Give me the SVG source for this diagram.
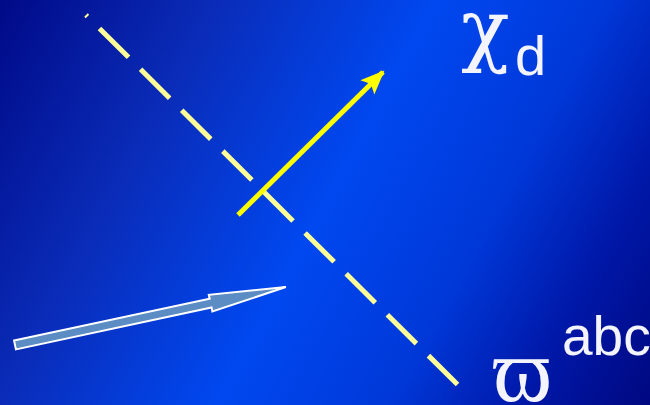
<svg xmlns="http://www.w3.org/2000/svg" width="650" height="405" viewBox="0 0 650 405">
<defs>
<linearGradient id="bg" gradientUnits="userSpaceOnUse" x1="0" y1="0" x2="672" y2="365">
<stop offset="0" stop-color="#000a88"/>
<stop offset="0.25" stop-color="#0a2cb8"/>
<stop offset="0.5" stop-color="#0048f0"/>
<stop offset="0.7" stop-color="#0038d8"/>
<stop offset="0.85" stop-color="#0018a8"/>
<stop offset="1" stop-color="#000880"/>
</linearGradient>
<marker id="yhead" markerUnits="userSpaceOnUse" markerWidth="30" markerHeight="26" refX="22" refY="12" orient="auto" viewBox="0 0 30 26">
<path d="M0,2 L24,12 L0,22 L5,12 Z" fill="#ffff00"/>
</marker>
<style>
.lbl{fill:#f4f4ff}
.chi{font-family:"DejaVu Serif",serif}
.sym{font-family:"Liberation Serif","DejaVu Serif",serif}
.sub{font-family:"Liberation Sans","DejaVu Sans",sans-serif}
</style>
</defs>
<rect width="650" height="405" fill="url(#bg)"/>
<g id="connectors">
<line id="dashed-axis" x1="86" y1="15" x2="462" y2="389" stroke="#ffff99" stroke-width="5" stroke-dasharray="41 17" stroke-dashoffset="39"/>
<line id="chi-arrow" x1="238" y1="215" x2="383" y2="72" stroke="#ffff00" stroke-width="5" marker-end="url(#yhead)"/>
<path id="omega-arrow" transform="translate(15,345) rotate(-12.08)" d="M0,-4.5 L200,-4.5 L200,-8.5 L277,0 L200,8.5 L200,4.5 L0,4.5 Z" fill="#5b8cc4" stroke="#ffffff" stroke-width="2"/>
</g>
<g id="chi-label">
<text class="lbl chi" x="461" y="56" font-size="80">χ</text>
<text class="lbl sub" x="515" y="75" font-size="56">d</text>
</g>
<g id="omega-label">
<text class="lbl sym" x="493" y="401" font-size="90">ϖ</text>
<text class="lbl sub" x="562" y="355" font-size="55">abc</text>
</g>
</svg>
